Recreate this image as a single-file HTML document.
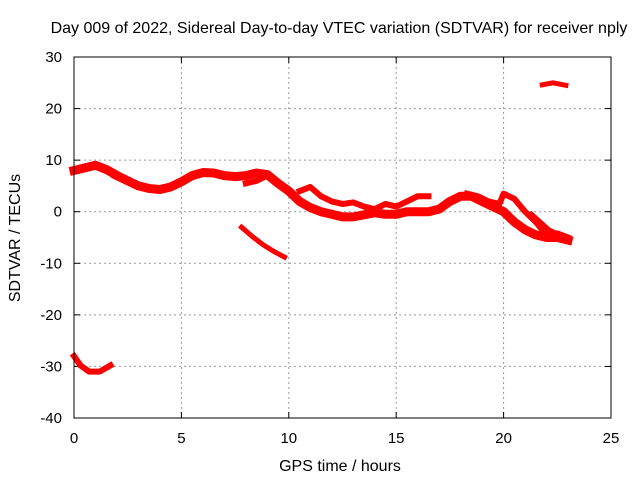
<!DOCTYPE html>
<html><head><meta charset="utf-8"><style>
body{margin:0;background:#fff;}
svg{display:block;font-family:"Liberation Sans",sans-serif;font-size:15px;}
</style></head><body>
<svg id="chart" width="640" height="480">
<text x="339" y="33" text-anchor="middle" font-size="16">Day 009 of 2022, Sidereal Day-to-day VTEC variation (SDTVAR) for receiver nply</text>
<text transform="translate(20,238) rotate(-90)" text-anchor="middle" font-size="16">SDTVAR / TECUs</text>
<text x="340" y="471" text-anchor="middle" font-size="16">GPS time / hours</text>
<g id="grid"></g><g id="data"></g>
<rect x="74" y="57" width="537" height="361" fill="none" stroke="#000" stroke-width="1"/>
</svg>
<script>
const xTicks=[0,5,10,15,20,25];
const yTicks=[30,20,10,0,-10,-20,-30,-40];
const trackMainAX=[0,0.5,1,1.5,1.8];
const trackMainAY=[8,8.5,9,8.2,7.5];
const trackMainBX=[2,2.5,3,3.5,4,4.5,5,5.5,6,6.5,7,7.5,8,8.5,9,9.5,10,10.5,11,11.5,12,12.5,13,13.5,14,14.5,15,15.5,16,16.5,17,17.5,18,18.5,19,19.5,20,20.5,21,21.5,22,22.5,23];
const trackMainBY=[7,6,5,4.5,4.3,4.8,5.8,7,7.6,7.5,7,6.8,7,7.5,7.2,5.5,4,2,0.8,0,-0.5,-1,-1,-0.6,-0.2,-0.5,-0.5,0,0,0,0.5,2,3,3,2,1,0,-2,-3.5,-4.5,-5,-5,-5.5];
const trackUpperX=[10.5,11,11.5,12,12.5,13,13.5,14,14.5,15,15.5,16,16.5];
const trackUpperY=[4,4.8,3,2,1.5,1.8,1,0.5,1.5,1,2,3,3];
const trackLateX=[18.3,18.8,19.3,19.8,20,20.5,21,21.5,22,22.5,23];
const trackLateY=[3.5,3,2,1.5,3.5,2.5,0,-2,-4.5,-4.2,-5];
const trackLate2X=[21.3,21.7,22.1,22.6];
const trackLate2Y=[-0.5,-2,-3.5,-4.5];
const trackLowX=[8,8.5,9];
const trackLowY=[5.5,6,7];
const trackDiagX=[7.8,8.3,8.8,9.3,9.8];
const trackDiagY=[-3,-4.8,-6.4,-7.7,-8.8];
const trackNegX=[0,0.3,0.7,1.2,1.7];
const trackNegY=[-28,-29.8,-31,-31,-29.8];
const trackHighX=[21.8,22.3,22.9];
const trackHighY=[24.6,25,24.5];
const X=v=>74+v*537/25, Y=v=>57+(30-v)*361/70;
const NS="http://www.w3.org/2000/svg";
const g=document.getElementById('grid'), d=document.getElementById('data');
function mk(tag,attrs,parent){const e=document.createElementNS(NS,tag);for(const k in attrs)e.setAttribute(k,attrs[k]);parent.appendChild(e);return e;}
xTicks.forEach(t=>{
 if(t>0&&t<25){const l=mk('line',{x1:X(t),x2:X(t),y1:57,y2:418,stroke:'#999','stroke-dasharray':'2,3'},g);
 
 }
 const tx=mk('text',{x:X(t),y:443,'text-anchor':'middle'},g);tx.textContent=t;
 
 
 mk('line',{x1:X(t),x2:X(t),y1:418,y2:412,stroke:'#000'},g);
 mk('line',{x1:X(t),x2:X(t),y1:57,y2:63,stroke:'#000'},g);
});
yTicks.forEach(t=>{
 if(t<30&&t>-40){const l=mk('line',{x1:74,x2:611,y1:Y(t),y2:Y(t),stroke:'#999','stroke-dasharray':'2,3'},g);
 
 }
 const tx=mk('text',{x:62,y:Y(t)+5,'text-anchor':'end'},g);tx.textContent=t;
 
 
 mk('line',{x1:74,x2:80,y1:Y(t),y2:Y(t),stroke:'#000'},g);
 mk('line',{x1:611,x2:605,y1:Y(t),y2:Y(t),stroke:'#000'},g);
});
function track(xs,ys,w,name){
 const p=mk('polyline',{points:xs.map((x,i)=>X(x)+','+Y(ys[i])).join(' '),fill:'none',stroke:'#f00','stroke-width':w,'stroke-linejoin':'round','stroke-linecap':'square'},d);
 
 
}
track(trackMainAX,trackMainAY,9,'sdtvar-track-main-a');
track(trackMainBX,trackMainBY,9,'sdtvar-track-main-b');
track(trackUpperX,trackUpperY,6,'sdtvar-track-upper');
track(trackLateX,trackLateY,6,'sdtvar-track-late');
track(trackLate2X,trackLate2Y,5,'sdtvar-track-late-2');
track(trackLowX,trackLowY,6,'sdtvar-track-low');
track(trackDiagX,trackDiagY,5,'sdtvar-track-diagonal');
track(trackNegX,trackNegY,6,'sdtvar-track-negative');
track(trackHighX,trackHighY,5,'sdtvar-track-high');
</script>
</body></html>
